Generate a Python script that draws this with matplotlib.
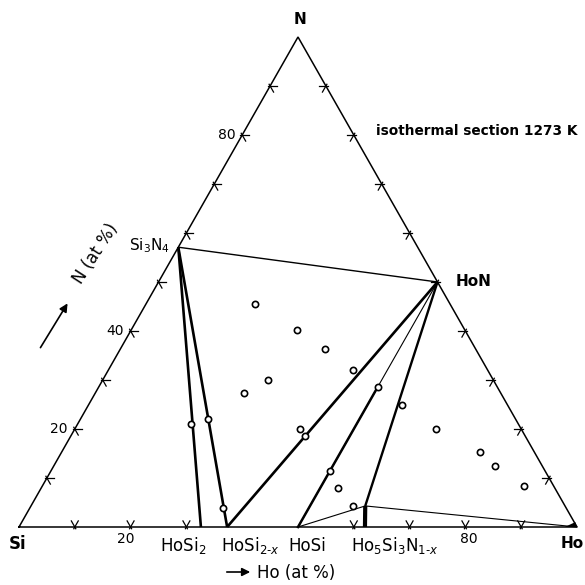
import numpy as np
import matplotlib
matplotlib.use("Agg")
import matplotlib.pyplot as plt
from matplotlib.patches import Polygon

# compositions in at% (Ho, N), Si is the rest
phase_names = ["Si3N4", "HoN", "HoSi2", "HoSi2-x", "HoSi", "Ho5Si3", "Ho5Si3N1-x"]
phase_ho = [0.0, 50.0, 32.6, 37.3, 50.0, 62.0, 59.9]
phase_n = [57.1, 50.0, 0.0, 0.0, 0.0, 0.0, 4.3]

# measured samples (open circles)
sample_ho = [19.5, 29.8, 36.6, 43.8, 29.5, 26.7, 50.0, 56.3, 64.7, 20.4,
             22.8, 40.3, 42.0, 49.9, 53.3, 57.7, 34.6, 74.9, 79.0, 86.3]
sample_n = [45.5, 40.2, 36.3, 32.0, 30.1, 27.3, 28.5, 24.8, 20.0, 21.0,
            22.0, 20.1, 18.6, 11.5, 7.9, 4.3, 3.8, 15.4, 12.5, 8.4]

# tie lines: (from, to, weight)
tie_lines = [("Si3N4", "HoN", 1.0), ("Si3N4", "HoSi2", 1.9), ("Si3N4", "HoSi2-x", 1.9),
             ("HoN", "HoSi2-x", 1.9), ("HoN", "HoSi", 0.8), ("HoN", "Ho5Si3N1-x", 1.7),
             ("HoSi", "Ho5Si3N1-x", 0.8), ("Ho5Si3", "Ho5Si3N1-x", 3.0)]

# small two-phase wedge at the Ho corner (Ho, N)
wedge_ho = [97.8, 100.0, 99.2]
wedge_n = [0.0, 0.0, 1.0]

base_ticks = [10, 20, 30, 60, 70, 80, 90]
side_ticks = [10, 20, 30, 40, 50, 60, 70, 80, 90]
left_labels = [20, 40, 80]
base_labels = [20, 80]

X_SI, X_HO, Y_BASE, Y_TOP = 19.0, 577.0, 527.0, 37.0


def tern(ho, n):
    ho = np.asarray(ho, float)
    n = np.asarray(n, float)
    x = X_SI + (X_HO - X_SI) * (ho + n / 2) / 100
    y = Y_BASE - (Y_BASE - Y_TOP) * n / 100
    return x, y


pos = {name: tern(h, n) for name, h, n in zip(phase_names, phase_ho, phase_n)}

fig = plt.figure(figsize=(5.85, 5.85), dpi=100)
ax = fig.add_axes([0, 0, 1, 1])
ax.set_xlim(0, 585)
ax.set_ylim(585, 0)
ax.axis("off")

# triangle
cx, cy = tern([0, 100, 0, 0], [0, 0, 100, 0])
ax.plot(cx, cy, color="black", lw=1.1, solid_joinstyle="miter")

# ticks, stubs parallel to the two other sides
corner = {"Si": np.array(tern(0, 0)), "Ho": np.array(tern(100, 0)), "N": np.array(tern(0, 100))}


def unit(v):
    return v / np.hypot(*v)


def tick(p, d1, d2):
    for d in (d1, d2):
        a = p - 2 * d
        b = p + 7 * d
        ax.plot([a[0], b[0]], [a[1], b[1]], color="black", lw=0.9)


for t in base_ticks:
    p = np.array(tern(t, 0))
    tick(p, unit(corner["N"] - corner["Ho"]), unit(corner["N"] - corner["Si"]))
for t in side_ticks:
    p = np.array(tern(0, t))
    tick(p, unit(corner["Ho"] - corner["Si"]), unit(corner["Ho"] - corner["N"]))
    p = np.array(tern(100 - t, t))
    tick(p, unit(corner["Si"] - corner["Ho"]), unit(corner["Si"] - corner["N"]))

# tie lines
for a, b, w in tie_lines:
    ax.plot([pos[a][0], pos[b][0]], [pos[a][1], pos[b][1]], color="black", lw=w,
            solid_capstyle="butt")
# lower part of HoN-HoSi drawn heavy
hx, hy = tern([50, 50], [0, 28.5])
ax.plot(hx, hy, color="black", lw=1.8)

# Ho5Si3N1-x to Ho, with filled wedge at the Ho corner
lx, ly = tern([phase_ho[6], 100], [phase_n[6], 0])
ax.plot(lx, ly, color="black", lw=0.8)
wx, wy = tern(wedge_ho, wedge_n)
ax.add_patch(Polygon(np.column_stack([wx, wy]), closed=True, color="black", lw=0))

# samples
sx, sy = tern(sample_ho, sample_n)
ax.plot(sx, sy, "o", ms=4.5, mfc="white", mec="black", mew=1.2, ls="none", zorder=5)

fs = 11
# corner labels
ax.text(300, 20, "N", ha="center", va="center", fontsize=fs, fontweight="bold")
ax.text(18, 544, "Si", ha="center", va="center", fontsize=fs + 1, fontweight="bold")
ax.text(572, 544, "Ho", ha="center", va="center", fontsize=fs, fontweight="bold")
ax.text(pos["Si3N4"][0] - 8, pos["Si3N4"][1] - 2, r"Si$_3$N$_4$", ha="right", va="center",
        fontsize=fs)
ax.text(pos["HoN"][0] + 18, pos["HoN"][1], "HoN", ha="left", va="center",
        fontsize=fs, fontweight="bold")

# phase labels along the base
ax.text(183, 546, r"HoSi$_2$", ha="center", va="center", fontsize=fs + 1)
ax.text(250, 546, r"HoSi$_{2\text{-}x}$", ha="center", va="center", fontsize=fs + 1)
ax.text(307, 546, "HoSi", ha="center", va="center", fontsize=fs + 1)
ax.text(395, 546, r"Ho$_5$Si$_3$N$_{1\text{-}x}$", ha="center", va="center", fontsize=fs + 1)

for v in base_labels:
    x, _ = tern(v, 0)
    ax.text(x - 5 if v == 20 else x + 3, 539, str(v), ha="center", va="center", fontsize=fs - 1)
for v in left_labels:
    x, y = tern(0, v)
    ax.text(x - 7, y, str(v), ha="right", va="center", fontsize=fs - 1)

ax.text(376, 131, "isothermal section 1273 K", ha="left", va="center",
        fontsize=9.8, fontweight="bold")

# axis captions with arrows
ax.text(96, 254, "N (at %)", ha="center", va="center", rotation=57, fontsize=fs + 1)
ax.annotate("", xy=(69, 301), xytext=(39, 350),
            arrowprops=dict(arrowstyle="-|>", color="black", lw=1.2, mutation_scale=12))
ax.annotate("", xy=(253, 572), xytext=(224, 572),
            arrowprops=dict(arrowstyle="-|>", color="black", lw=1.2, mutation_scale=12))
ax.text(257, 573, "Ho (at %)", ha="left", va="center", fontsize=fs + 1)

fig.savefig("out.png", dpi=100)
